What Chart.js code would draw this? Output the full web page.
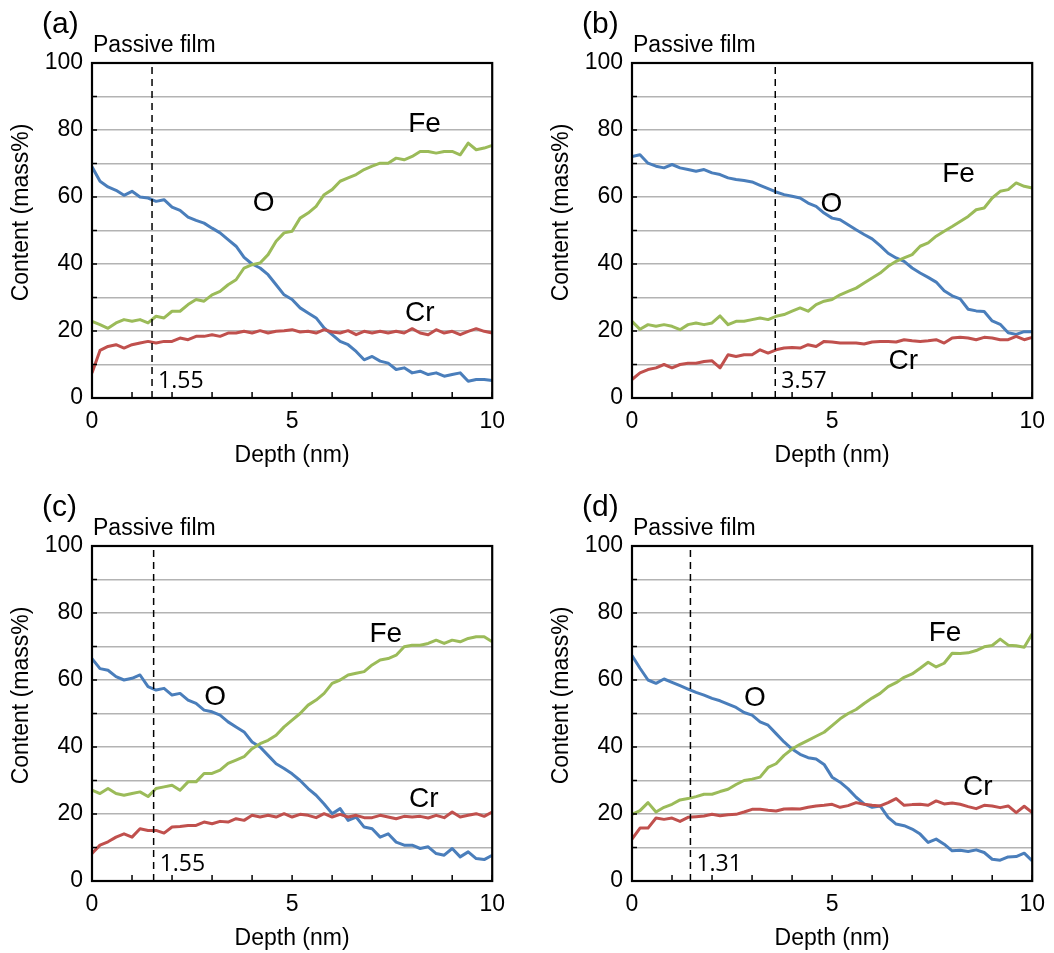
<!DOCTYPE html>
<html>
<head>
<meta charset="utf-8">
<script src="https://cdn.jsdelivr.net/npm/chart.js@4.4.0/dist/chart.umd.min.js"></script>
<style>
    body { margin: 0; background: #fff; width: 1054px; height: 953px; position: relative; overflow: hidden; }
    .panel { position: absolute; width: 515px; height: 470px; }
</style>
</head>
<body>
<div class="panel" style="left:0;top:0"><canvas id="chartA" width="515" height="470"></canvas></div>
<div class="panel" style="left:540px;top:0"><canvas id="chartB" width="515" height="470"></canvas></div>
<div class="panel" style="left:0;top:483px"><canvas id="chartC" width="515" height="470"></canvas></div>
<div class="panel" style="left:540px;top:483px"><canvas id="chartD" width="515" height="470"></canvas></div>

<script>
// profondita' (nm), passo 0.2
const depth = [0, 0.2, 0.4, 0.6, 0.8, 1, 1.2, 1.4, 1.6, 1.8, 2, 2.2, 2.4, 2.6, 2.8, 3, 3.2, 3.4, 3.6, 3.8,
    4, 4.2, 4.4, 4.6, 4.8, 5, 5.2, 5.4, 5.6, 5.8, 6, 6.2, 6.4, 6.6, 6.8, 7, 7.2, 7.4, 7.6, 7.8,
    8, 8.2, 8.4, 8.6, 8.8, 9, 9.2, 9.4, 9.6, 9.8, 10];

// (a)
const oA = [69, 64.7, 63, 62, 60.5, 61.7, 60, 59.7, 58.7, 59.2, 57, 56, 54, 53, 52.2, 50.7, 49.3, 47.3, 45.3, 42,
    40, 38.8, 36.8, 33.8, 30.8, 29.4, 26.9, 25.4, 23.9, 20.9, 18.9, 16.9, 15.9, 13.9, 11.4, 12.4, 11, 10.4, 8.5, 9,
    7.5, 8, 7, 7.5, 6.5, 7, 7.5, 5, 5.5, 5.5, 5.2];
const feA = [22.9, 21.9, 20.8, 22.4, 23.4, 22.9, 23.4, 22.4, 24.4, 23.9, 25.9, 25.9, 27.9, 29.4, 28.9, 30.8, 31.8, 33.8, 35.3, 38.8,
    39.8, 40.3, 42.8, 46.8, 49.3, 49.8, 53.7, 55.2, 57.2, 60.7, 62.2, 64.7, 65.7, 66.7, 68.2, 69.2, 70.1, 70.1, 71.6, 71.1,
    72.1, 73.6, 73.6, 73.1, 73.6, 73.6, 72.6, 76.1, 74.1, 74.6, 75.4];
const crA = [7.5, 14.2, 15.4, 15.9, 14.9, 15.9, 16.4, 16.9, 16.4, 16.9, 16.9, 17.9, 17.4, 18.4, 18.4, 18.9, 18.4, 19.4, 19.4, 19.9,
    19.4, 20.1, 19.4, 19.9, 20.1, 20.4, 19.7, 19.9, 19.4, 20.4, 19.7, 19.4, 20.1, 18.9, 19.9, 19.4, 19.9, 19.4, 19.9, 19.4,
    20.7, 19.4, 18.9, 20.4, 19.4, 19.9, 18.9, 19.9, 20.7, 19.9, 19.4];

// (b)
const oB = [72.1, 72.6, 70.1, 69.2, 68.7, 69.7, 68.7, 68.2, 67.7, 68.2, 67.2, 66.7, 65.7, 65.2, 64.9, 64.5, 63.5, 62.5, 61.5, 60.7,
    60.2, 59.7, 58.2, 57.2, 55.2, 53.7, 53.2, 51.7, 50.2, 48.8, 47.5, 45.5, 43.2, 41.8, 40.8, 38.8, 37.3, 36, 34.6, 32,
    30.5, 29.6, 26.5, 26, 25.8, 23, 22, 19.5, 19, 19.8, 19.8];
const feB = [22.9, 20.5, 21.9, 21.4, 21.9, 21.4, 20.4, 21.9, 22.4, 21.9, 22.4, 24.5, 21.9, 22.9, 22.9, 23.4, 23.9, 23.4, 24.4, 24.9,
    25.9, 26.9, 25.9, 27.9, 28.9, 29.4, 30.8, 31.8, 32.8, 34.3, 35.8, 37.3, 39.3, 40.8, 41.8, 42.8, 45.3, 46.3, 48.3, 49.8,
    51.2, 52.7, 54.2, 56.2, 56.7, 59.7, 61.7, 62.2, 64.2, 63.2, 62.7];
const crB = [5.5, 7.5, 8.5, 9, 10, 9, 10, 10.4, 10.4, 10.9, 11.1, 9, 12.9, 12.4, 12.9, 12.9, 14.4, 13.4, 14.4, 14.9,
    15.1, 14.9, 15.9, 15.4, 16.9, 16.7, 16.4, 16.4, 16.4, 16.1, 16.7, 16.9, 16.9, 16.7, 17.4, 17.1, 16.9, 17.1, 17.4, 16.4,
    17.9, 18.1, 17.9, 17.4, 18.1, 17.9, 17.4, 17.4, 18.4, 17.4, 18.1];

// (c)
const oC = [66.4, 63.4, 62.9, 61, 60, 60.5, 61.5, 58, 57, 57.5, 55.5, 56, 54, 53, 51, 50.5, 49.5, 47.5, 46, 44.5,
    41.5, 40, 37.5, 35, 33.6, 32, 30, 27.6, 25.6, 23, 20.1, 21.6, 18.1, 19.1, 16.1, 15.6, 13.1, 14.1, 11.6, 10.7,
    10.7, 9.7, 10.2, 8.2, 7.7, 9.7, 7.2, 8.7, 6.7, 6.4, 7.7];
const feC = [27.1, 26.1, 27.6, 26.1, 25.6, 26.1, 26.6, 25.2, 27.6, 28.1, 28.6, 27.1, 29.6, 29.6, 32.1, 32.1, 33.1, 35.1, 36.1, 37.1,
    39.5, 41, 42, 43.5, 46, 48, 50, 52.5, 54, 56, 59, 60, 61.5, 62, 62.5, 64.5, 66, 66.4, 67.4, 69.9,
    70.4, 70.4, 70.9, 71.9, 70.9, 71.9, 71.4, 72.4, 72.9, 72.9, 71.4];
const crC = [8.2, 10.7, 11.7, 13.1, 14.1, 13.1, 15.6, 15.1, 15.1, 14.3, 16.1, 16.3, 16.6, 16.6, 17.6, 17.1, 17.8, 17.6, 18.6, 18.1,
    19.6, 19.1, 19.6, 19.1, 20.1, 19.1, 19.9, 19.6, 18.9, 20.1, 19.1, 19.9, 19.1, 19.6, 18.9, 18.9, 19.6, 19.1, 18.6, 19.3,
    19.1, 19.3, 18.8, 19.6, 18.9, 20.6, 19.1, 19.6, 20.1, 19.3, 20.6];

// (d)
const oD = [67.3, 63.5, 60, 59, 60.3, 59.3, 58.3, 57.3, 56.3, 55.5, 54.5, 53.8, 52.8, 51.8, 50.3, 49.5, 47.5, 46.5, 44, 41.5,
    39.4, 37.8, 36.8, 36.4, 34.8, 31, 29.5, 27.5, 25, 23, 22, 22.4, 19, 17, 16.5, 15.5, 14, 11.5, 12.5, 11,
    9, 9.2, 8.8, 9.3, 8.5, 6.5, 6.2, 7.2, 7.3, 8.3, 6];
const feD = [19.9, 21, 23.4, 20.6, 22, 22.9, 24.2, 24.6, 25.2, 25.9, 25.9, 26.7, 27.4, 28.8, 30, 30.4, 31, 33.9, 35, 37.5,
    39.4, 40.8, 42, 43.2, 44.4, 46.4, 48.4, 50, 51.2, 53, 54.6, 56, 58, 59.2, 60.8, 61.8, 63.5, 65.3, 63.9, 65,
    68, 67.9, 68.1, 68.8, 69.9, 70.3, 72.2, 70.4, 70.2, 69.8, 73.8];
const crD = [12.5, 15.8, 15.8, 18.8, 18.4, 18.8, 17.8, 19, 19.2, 19.4, 19.9, 19.5, 19.8, 19.9, 20.6, 21.4, 21.4, 21.1, 20.9, 21.5,
    21.6, 21.5, 22, 22.4, 22.6, 22.9, 22, 22.5, 23.4, 22.9, 22.6, 22.4, 23.4, 24.6, 22.6, 22.8, 22.9, 22.6, 23.9, 23,
    23.3, 22.9, 22.2, 21.6, 22.6, 22.4, 21.9, 22.4, 20.4, 22.3, 20.4];

// spessore film passivo
const filmEdge = [1.5, 3.58, 1.54, 1.46];
const filmLabels = ['1.55', '3.57', '1.55', '1.31'];
const panelNames = ['(a)', '(b)', '(c)', '(d)'];

const colO = '#4a7ebb';
const colFe = '#9bbb59';
const colCr = '#c0504d';
const mainFont = '"Liberation Sans", Arial, sans-serif';

const panels = [
    { id: 'chartA', o: oA, fe: feA, cr: crA, tags: { Fe: [8.31, 81.8], O: [4.29, 58.2], Cr: [8.19, 25.4] } },
    { id: 'chartB', o: oB, fe: feB, cr: crB, tags: { Fe: [8.16, 66.9], O: [4.98, 57.9], Cr: [6.78, 11.0] } },
    { id: 'chartC', o: oC, fe: feC, cr: crC, tags: { Fe: [7.34, 73.7], O: [3.08, 54.9], Cr: [8.29, 24.5] } },
    { id: 'chartD', o: oD, fe: feD, cr: crD, tags: { Fe: [7.82, 74.0], O: [3.07, 54.6], Cr: [8.64, 28.1] } }
];

Chart.defaults.color = '#000';

//testi e cornice disegnati sopra il grafico
const decorPlugin = {
    id: 'decor',
    afterDraw(chart, args, opts) {
        const ctx = chart.ctx;
        const area = chart.chartArea;
        const xs = chart.scales.x;
        const ys = chart.scales.y;

        ctx.save();
        ctx.strokeStyle = '#000';
        ctx.lineWidth = 1.5;
        xs.ticks.forEach(t => {
            const px = xs.getPixelForValue(t.value);
            ctx.beginPath();
            ctx.moveTo(px, area.bottom);
            ctx.lineTo(px, area.bottom - 6);
            ctx.stroke();
        });
        ys.ticks.forEach(t => {
            const py = ys.getPixelForValue(t.value);
            ctx.beginPath();
            ctx.moveTo(area.left, py);
            ctx.lineTo(area.left + 5, py);
            ctx.stroke();
        });

        ctx.lineWidth = 2.2;
        ctx.strokeRect(area.left, area.top, area.right - area.left, area.bottom - area.top);

        ctx.fillStyle = '#000';
        ctx.textBaseline = 'alphabetic';
        ctx.textAlign = 'left';
        ctx.font = '30px ' + mainFont;
        ctx.fillText(opts.name, area.left - 50, area.top - 30);
        ctx.font = '23px ' + mainFont;
        ctx.fillText('Passive film', area.left + 1, area.top - 11);

        ctx.font = '23px "Open Sans", sans-serif';
        ctx.fillText(opts.film, xs.getPixelForValue(opts.edge) + 6, area.bottom - 10);

        ctx.font = '28px ' + mainFont;
        ctx.textAlign = 'center';
        ctx.textBaseline = 'middle';
        Object.keys(opts.tags).forEach(k => {
            const p = opts.tags[k];
            ctx.fillText(k, xs.getPixelForValue(p[0]), ys.getPixelForValue(p[1]));
        });

        ctx.font = '23px ' + mainFont;
        ctx.translate(area.left - 70, (area.top + area.bottom) / 2 - 18);
        ctx.rotate(-Math.PI / 2);
        ctx.fillText('Content (mass%)', 0, 0);
        ctx.restore();
    }
};

function serie(values) {
    return values.map((v, i) => ({ x: depth[i], y: v }));
}

function lineSet(label, values, color) {
    return {
        label: label,
        data: serie(values),
        borderColor: color,
        backgroundColor: color,
        borderWidth: 3,
        pointRadius: 0,
        tension: 0,
        borderJoinStyle: 'round',
        fill: false
    };
}

panels.forEach((p, idx) => {
    const datasets = [
        {
            label: 'film',
            data: [{ x: filmEdge[idx], y: 0 }, { x: filmEdge[idx], y: 100 }],
            borderColor: '#000',
            borderWidth: 1.5,
            borderDash: [7, 5],
            pointRadius: 0,
            fill: false
        },
        lineSet('Cr', p.cr, colCr),
        lineSet('Fe', p.fe, colFe),
        lineSet('O', p.o, colO)
    ];

    new Chart(document.getElementById(p.id).getContext('2d'), {
        type: 'line',
        data: { datasets: datasets },
        options: {
            responsive: false,
            animation: false,
            layout: { padding: { top: 63, right: 20, left: 0, bottom: 0 } },
            plugins: {
                legend: { display: false },
                tooltip: { enabled: false },
                decor: { name: panelNames[idx], film: filmLabels[idx], edge: filmEdge[idx], tags: p.tags }
            },
            scales: {
                x: {
                    type: 'linear',
                    min: 0,
                    max: 10,
                    afterFit: s => { s.height = 72; },
                    grid: { display: false, drawTicks: false },
                    border: { display: false },
                    ticks: {
                        stepSize: 1,
                        autoSkip: false,
                        maxRotation: 0,
                        padding: 10,
                        font: { family: mainFont, size: 23 },
                        callback: v => (v % 5 === 0 ? v : '')
                    },
                    title: {
                        display: true,
                        text: 'Depth (nm)',
                        font: { family: mainFont, size: 23 },
                        padding: { top: 0, bottom: 1 }
                    }
                },
                y: {
                    min: 0,
                    max: 100,
                    afterFit: s => { s.width = 92; },
                    grid: { color: '#b3b3b3', lineWidth: 1.5, drawTicks: false },
                    border: { display: false },
                    ticks: {
                        stepSize: 10,
                        autoSkip: false,
                        padding: 9,
                        font: { family: mainFont, size: 23 },
                        callback: v => (v % 20 === 0 ? v : '')
                    }
                }
            }
        },
        plugins: [decorPlugin]
    });
});
</script>
</body>
</html>
